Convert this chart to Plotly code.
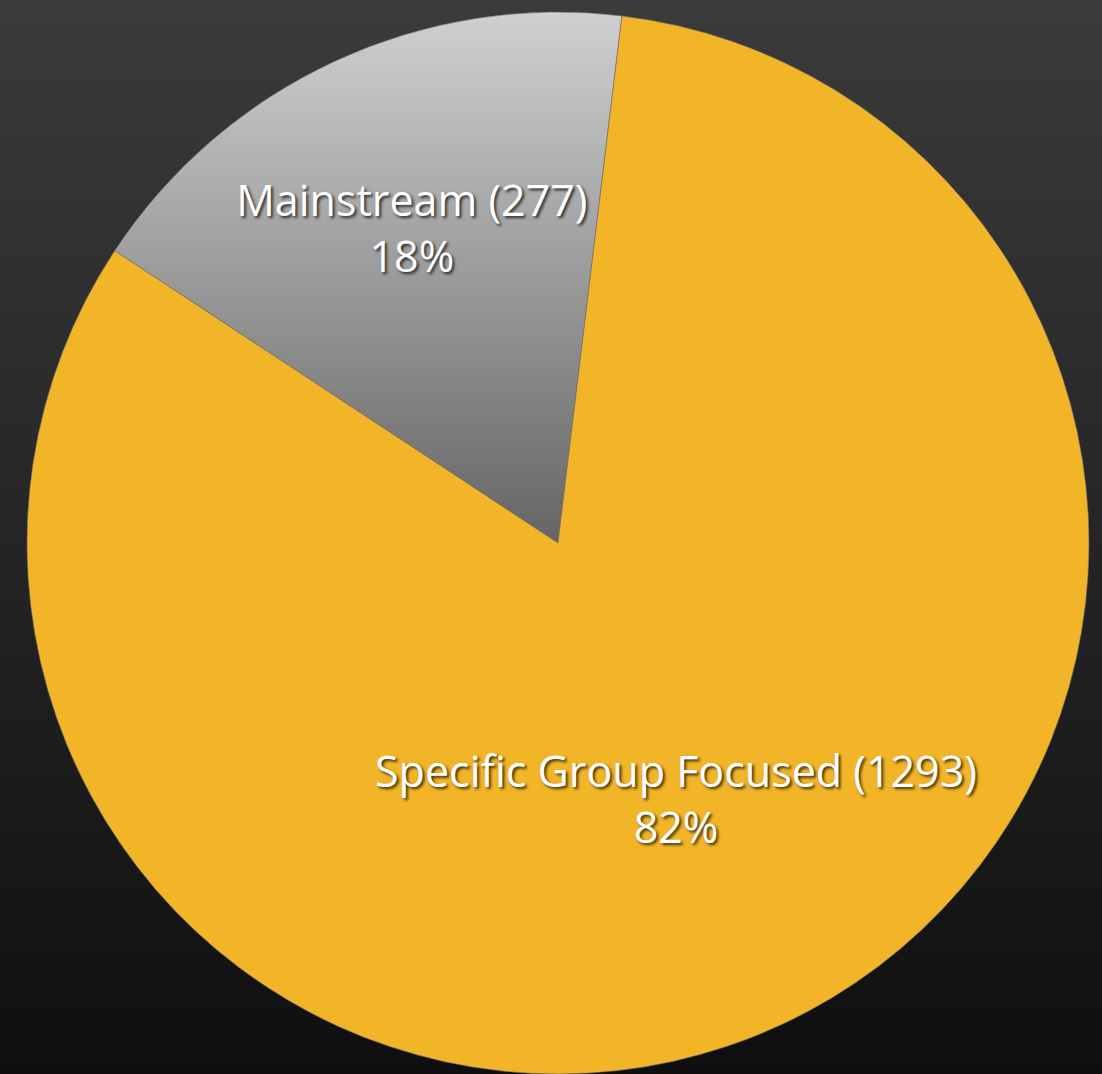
import base64
import math
import plotly.graph_objects as go

# Audience split of the titles
labels = ["Mainstream", "Specific Group Focused"]
counts = [277, 1293]
slice_colors = ["#9a9a9a", "#F3B528"]

# Vertical gradients: page background and the Mainstream wedge
bg_top, bg_bottom = "#3b3b3b", "#0f0f0f"
wedge_top, wedge_bottom = "#d0d0d0", "#656565"

START_ANGLE = -56.6          # clockwise from 12 o'clock, start of first slice
DOMAIN_X = [0.0127, 1.0]
DOMAIN_Y = [0.0, 0.9888]
FIG_W, FIG_H = 1102, 1074
LABEL_FONT = dict(
    family="Open Sans",
    size=43,
    weight=500,
    color="white",
    shadow="2px 2px 3px rgba(0,0,0,0.75)",
)

total = sum(counts)
shares = [c / total for c in counts]


def slice_label(i):
    return f"{labels[i]} ({counts[i]})<br>{shares[i]:.0%}"


bg_svg = (
    "<svg xmlns='http://www.w3.org/2000/svg' width='100' height='100' preserveAspectRatio='none'>"
    "<defs><linearGradient id='g' x1='0' y1='0' x2='0' y2='1'>"
    f"<stop offset='0' stop-color='{bg_top}'/><stop offset='1' stop-color='{bg_bottom}'/>"
    "</linearGradient></defs><rect width='100' height='100' fill='url(#g)'/></svg>"
)
bg_uri = "data:image/svg+xml;base64," + base64.b64encode(bg_svg.encode()).decode()

fig = go.Figure(
    go.Pie(
        labels=labels,
        values=counts,
        sort=False,
        direction="clockwise",
        rotation=START_ANGLE,
        marker=dict(colors=slice_colors, line=dict(color="rgba(110,110,110,0.6)", width=1)),
        # the small wedge keeps its own inside label; the large one is labelled below
        texttemplate=["%{label} (%{value})<br>%{percent:.0%}", ""],
        textposition="inside",
        insidetextorientation="horizontal",
        textfont=LABEL_FONT,
        hoverinfo="label+value+percent",
        showlegend=False,
        domain=dict(x=DOMAIN_X, y=DOMAIN_Y),
    )
)

# Label of the large slice: placed on its bisector, about half way out
cx_px = FIG_W * (DOMAIN_X[0] + DOMAIN_X[1]) / 2
cy_px = FIG_H * (1 - (DOMAIN_Y[0] + DOMAIN_Y[1]) / 2)
radius_px = min(FIG_W * (DOMAIN_X[1] - DOMAIN_X[0]), FIG_H * (DOMAIN_Y[1] - DOMAIN_Y[0])) / 2
a0 = START_ANGLE + 360 * shares[0]
a1 = START_ANGLE + 360 * (shares[0] + shares[1])
mid = math.radians((a0 + a1) / 2)
r_lab = 0.53 * radius_px
lx = cx_px + r_lab * math.sin(mid)
ly = cy_px - r_lab * math.cos(mid)

fig.add_annotation(
    x=lx / FIG_W,
    y=1 - ly / FIG_H,
    xref="paper",
    yref="paper",
    text=slice_label(1),
    showarrow=False,
    align="center",
    xanchor="center",
    yanchor="middle",
    font=LABEL_FONT,
)

fig.update_layout(
    width=FIG_W,
    height=FIG_H,
    margin=dict(l=0, r=0, t=0, b=0),
    paper_bgcolor="#262626",
    plot_bgcolor="rgba(0,0,0,0)",
    uniformtext=dict(minsize=LABEL_FONT["size"], mode="show"),
    images=[
        dict(
            source=bg_uri,
            xref="paper",
            yref="paper",
            x=0,
            y=1,
            sizex=1,
            sizey=1,
            sizing="stretch",
            xanchor="left",
            yanchor="top",
            layer="below",
        )
    ],
)

# Fill the Mainstream wedge with a top-to-bottom grey gradient
post_js = """
var gd = document.getElementById('{plot_id}');
function paintWedge() {
  var ns = 'http://www.w3.org/2000/svg';
  var svg = gd.querySelector('svg.main-svg');
  if (!svg) return;
  var defs = svg.querySelector('defs');
  if (!document.getElementById('mainstream-grad')) {
    var g = document.createElementNS(ns, 'linearGradient');
    g.setAttribute('id', 'mainstream-grad');
    g.setAttribute('x1', '0'); g.setAttribute('y1', '0');
    g.setAttribute('x2', '0'); g.setAttribute('y2', '1');
    [['0', 'WTOP'], ['1', 'WBOT']].forEach(function (s) {
      var st = document.createElementNS(ns, 'stop');
      st.setAttribute('offset', s[0]);
      st.setAttribute('stop-color', s[1]);
      g.appendChild(st);
    });
    defs.appendChild(g);
  }
  var p = gd.querySelectorAll('g.slice path.surface')[0];
  if (p) p.style.fill = 'url(#mainstream-grad)';
}
paintWedge();
gd.on('plotly_afterplot', paintWedge);
""".replace("WTOP", wedge_top).replace("WBOT", wedge_bottom)

fig.write_html("out.html", post_script=post_js)
